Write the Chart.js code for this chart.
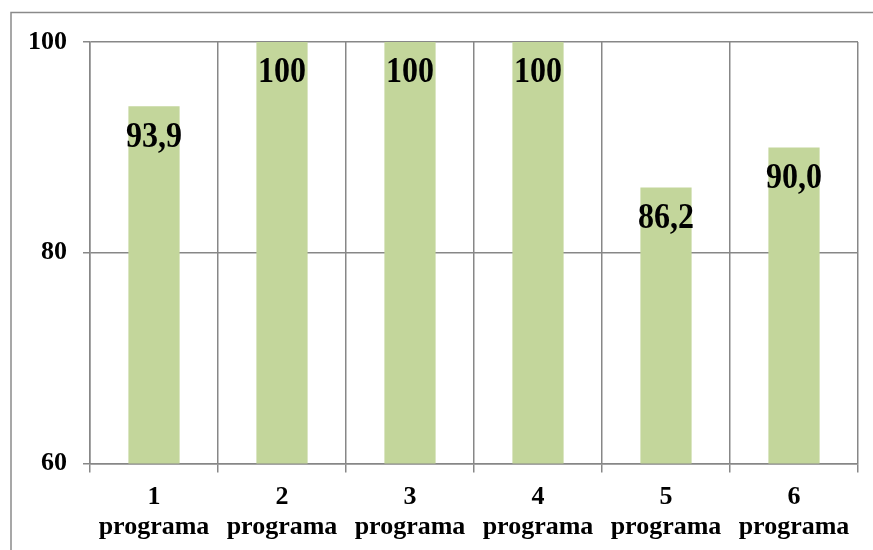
<!DOCTYPE html>
<html>
<head>
<meta charset="utf-8">
<script src="https://cdn.jsdelivr.net/npm/chart.js@4.4.1/dist/chart.umd.min.js"></script>
<style>
  html, body { margin: 0; padding: 0; background: #ffffff; }
  #wrap { width: 873px; height: 550px; position: relative; }
</style>
</head>
<body>
<div id="wrap"><canvas id="c" width="873" height="550"></canvas></div>
<script>
const categories = [["1", "programa"], ["2", "programa"], ["3", "programa"], ["4", "programa"], ["5", "programa"], ["6", "programa"]];
const values = [93.9, 100, 100, 100, 86.2, 90.0];
const valueLabels = ["93,9", "100", "100", "100", "86,2", "90,0"];
const yTicks = [60, 80, 100];

const FONT = "'Liberation Serif', 'Times New Roman', serif";
const GRID = '#878787';

const outerBorder = {
  id: 'outerBorder',
  beforeDraw(chart) {
    const ctx = chart.ctx;
    ctx.save();
    ctx.strokeStyle = '#8a8a8a';
    ctx.lineWidth = 1.5;
    ctx.beginPath();
    ctx.moveTo(11, 560);
    ctx.lineTo(11, 12.5);
    ctx.lineTo(880, 12.5);
    ctx.stroke();
    ctx.restore();
  }
};

const barLabels = {
  id: 'barLabels',
  afterDatasetsDraw(chart) {
    const ctx = chart.ctx;
    const meta = chart.getDatasetMeta(0);
    meta.data.forEach((bar, i) => {
      ctx.save();
      ctx.translate(bar.x, bar.y + 31);
      ctx.scale(1, 1.12);
      ctx.font = 'bold 32px ' + FONT;
      ctx.fillStyle = '#000000';
      ctx.textAlign = 'center';
      ctx.textBaseline = 'middle';
      ctx.fillText(valueLabels[i], 0, 0);
      ctx.restore();
    });
  }
};

new Chart(document.getElementById('c'), {
  type: 'bar',
  data: {
    labels: categories,
    datasets: [{
      data: values,
      backgroundColor: '#c3d69b',
      borderWidth: 0,
      categoryPercentage: 1.0,
      barPercentage: 0.4
    }]
  },
  options: {
    responsive: false,
    animation: false,
    devicePixelRatio: 1,
    layout: { padding: { left: 0, top: 42, right: 15, bottom: 0 } },
    plugins: { legend: { display: false }, tooltip: { enabled: false } },
    scales: {
      x: {
        offset: true,
        grid: { display: true, offset: true, color: GRID, lineWidth: 1.5, tickLength: 9, drawTicks: true },
        border: { display: true, color: GRID, width: 1.5 },
        ticks: {
          color: '#000000',
          font: { family: FONT, size: 26, weight: 'bold', lineHeight: 1.15 },
          padding: 10,
          maxRotation: 0,
          autoSkip: false
        },
        afterFit(scale) { scale.height = 86.5; }
      },
      y: {
        min: 60,
        max: 100,
        afterBuildTicks(scale) { scale.ticks = yTicks.map(v => ({ value: v })); },
        grid: { display: true, color: GRID, lineWidth: 1.5, tickLength: 7, drawTicks: true },
        border: { display: true, color: GRID, width: 1.5 },
        ticks: {
          color: '#000000',
          font: { family: FONT, size: 26, weight: 'bold' },
          padding: 16
        },
        afterFit(scale) { scale.width = 90; }
      }
    }
  },
  plugins: [outerBorder, barLabels]
});
</script>
</body>
</html>
